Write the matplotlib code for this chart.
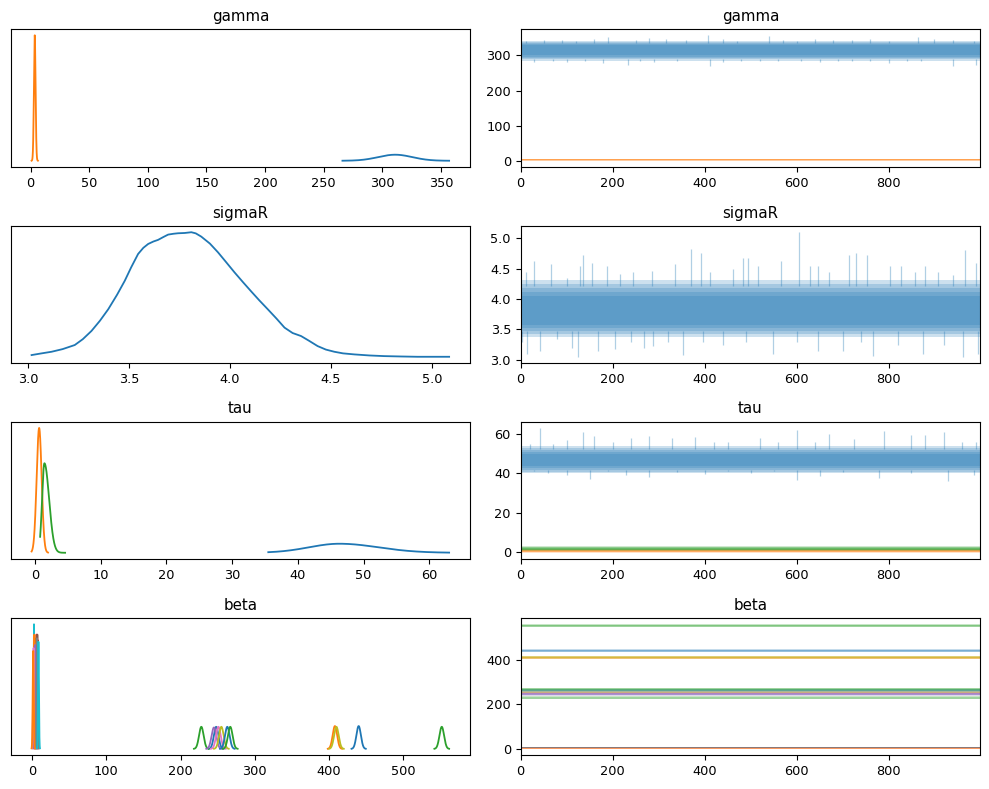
import numpy as np
import matplotlib
matplotlib.use("Agg")
import matplotlib.pyplot as plt

# ------------------------------------------------------------------
# Values
# ------------------------------------------------------------------
draw_last = 999

# gamma: two components (blue, orange)
gamma_center = [311.0, 3.5]
gamma_sd_left = [14.5, 0.70]
gamma_sd_right = [14.5, 0.70]
gamma_min = [266.0, 0.8]
gamma_max = [357.0, 6.2]

# sigmaR KDE
sigmaR_x = [3.016, 3.06, 3.115, 3.17, 3.23, 3.27, 3.313, 3.355, 3.396, 3.44, 3.478,
            3.51, 3.544, 3.57, 3.594, 3.62, 3.643, 3.67, 3.693, 3.72, 3.742, 3.775,
            3.808, 3.83, 3.857, 3.90, 3.94, 3.98, 4.022, 4.065, 4.105, 4.145, 4.187,
            4.23, 4.27, 4.31, 4.352, 4.39, 4.434, 4.475, 4.517, 4.56, 4.616, 4.69,
            4.764, 4.85, 4.929, 5.01, 5.086]
sigmaR_d = [0.032, 0.048, 0.067, 0.095, 0.138, 0.200, 0.287, 0.395, 0.516, 0.670, 0.817,
            0.960, 1.100, 1.165, 1.206, 1.232, 1.249, 1.280, 1.305, 1.314, 1.319, 1.322,
            1.330, 1.318, 1.284, 1.210, 1.118, 1.015, 0.906, 0.800, 0.704, 0.610, 0.516,
            0.418, 0.322, 0.265, 0.233, 0.185, 0.127, 0.090, 0.067, 0.050, 0.039, 0.028,
            0.021, 0.017, 0.014, 0.014, 0.014]

# tau: three components (blue, orange, green)
tau_center = [46.3, 0.65, 1.45]
tau_sd_left = [4.6, 0.38, 0.35]
tau_sd_right = [5.9, 0.38, 0.71]
tau_min = [35.5, -0.5, 0.8]
tau_max = [63.0, 2.0, 4.6]

# beta: 23 components
beta_center = [248, 408, 228, 6.0, 245, 5.0, 251, 5.5, 410, 2.5, 440, 3.0,
               552, 7.5, 4.0, 7.0, 2.0, 6.5, 255, 8.5, 263, 1.5, 267]
beta_sd = [3.1, 3.0, 3.1, 0.60, 3.2, 0.62, 3.1, 0.65, 3.1, 0.55, 3.0, 0.60,
           3.1, 0.63, 0.66, 0.60, 0.68, 0.62, 3.1, 0.64, 3.1, 0.70, 3.1]

# trace bands: inner (dense) and outer (light) ranges
gamma_inner = [(300, 328), (2.4, 4.6)]
gamma_outer = [(285, 342), (1.0, 6.0)]
sigmaR_inner = (3.58, 4.05)
sigmaR_outer = (3.38, 4.32)
tau_inner = [(43.5, 50.0), (0.35, 1.0), (1.1, 2.0)]
tau_outer = [(40.0, 54.0), (-0.3, 1.6), (0.8, 2.9)]

# spikes (draw index, value) of the trace extremes
gamma_up_x = [12, 50, 90, 120, 160, 190, 250, 280, 315, 360, 408, 440, 470, 541, 570,
              600, 640, 680, 720, 760, 800, 864, 900, 940, 985]
gamma_up_y = [340, 345, 344, 342, 346, 353, 344, 348, 347, 343, 357, 346, 340, 355, 345,
              341, 347, 345, 343, 346, 342, 352, 347, 343, 340]
gamma_dn_x = [30, 70, 101, 140, 180, 234, 260, 290, 340, 411, 440, 480, 520, 560, 610,
              650, 690, 720, 760, 802, 840, 870, 940, 991]
gamma_dn_y = [280, 284, 282, 285, 278, 274, 283, 282, 285, 270, 282, 283, 284, 285, 283,
              280, 284, 283, 284, 279, 284, 284, 270, 274]

sigmaR_up_x = [12, 28, 66, 100, 129, 136, 154, 188, 216, 245, 285, 335, 370, 393, 411,
               462, 484, 495, 516, 567, 606, 629, 647, 671, 714, 730, 754, 803, 828,
               857, 879, 908, 940, 966, 991]
sigmaR_up_y = [4.45, 4.62, 4.58, 4.35, 4.55, 4.72, 4.60, 4.55, 4.42, 4.45, 4.47, 4.58,
               4.83, 4.75, 4.45, 4.50, 4.67, 4.68, 4.55, 4.62, 5.10, 4.55, 4.55, 4.45,
               4.72, 4.76, 4.73, 4.55, 4.55, 4.45, 4.55, 4.45, 4.40, 4.80, 4.60]
sigmaR_dn_x = [2, 13, 42, 80, 111, 124, 168, 205, 240, 268, 288, 320, 354, 397, 440,
               491, 549, 600, 647, 701, 740, 766, 820, 875, 920, 962, 995]
sigmaR_dn_y = [3.30, 3.10, 3.15, 3.35, 3.20, 3.05, 3.15, 3.18, 3.30, 3.20, 3.22, 3.30,
               3.08, 3.30, 3.25, 3.30, 3.10, 3.30, 3.15, 3.15, 3.30, 3.07, 3.25, 3.10,
               3.25, 3.05, 3.10]

tau_up_x = [20, 43, 70, 100, 135, 160, 200, 240, 280, 330, 380, 420, 450, 520, 560,
            600, 640, 670, 725, 790, 850, 880, 920, 960, 990]
tau_up_y = [55, 63, 55, 57, 61, 59, 56, 58, 59, 58, 58.5, 56, 56, 58, 56,
            62, 56, 60, 57.5, 61.5, 59.5, 59.5, 61, 56, 56]
tau_dn_x = [30, 60, 100, 150, 190, 230, 280, 340, 400, 450, 500, 550, 600, 650, 700,
            780, 850, 930, 985]
tau_dn_y = [41, 40, 39, 37, 41, 39, 38, 40.5, 39.5, 41, 40, 41, 36.5, 38.5, 40.5,
            37.5, 40, 36, 39]

# ------------------------------------------------------------------
colors = plt.rcParams["axes.prop_cycle"].by_key()["color"]
W, H = 989, 789
fig = plt.figure(figsize=(W / 100, H / 100), dpi=100)

TITLE_FS = 10.8
TICK_FS = 9.3

rows_px = [(29, 167), (226, 363), (421.7, 559), (618, 755)]
left_px = (10.7, 470.0)
right_px = (520.7, 980.0)


def make_ax(col, row):
    x0, x1 = col
    t, b = rows_px[row]
    ax = fig.add_axes([x0 / W, 1 - b / H, (x1 - x0) / W, (b - t) / H])
    ax.tick_params(labelsize=TICK_FS)
    return ax


def bell(c, sl, sr, lo, hi, n=400):
    x = np.linspace(lo, hi, n)
    s = np.where(x < c, sl, sr)
    y = 2.0 / (np.sqrt(2 * np.pi) * (sl + sr)) * np.exp(-0.5 * ((x - c) / s) ** 2)
    return x, y


def band(ax, lo_hi, color, alpha):
    ax.fill_between([0, draw_last], [lo_hi[0]] * 2, [lo_hi[1]] * 2,
                    color=color, alpha=alpha, lw=0)


def graded_band(ax, inner, outer, color, n=5, total_alpha=0.72):
    # stacked translucent layers from the outer range in to the inner range
    a = 1 - (1 - total_alpha) ** (1.0 / n)
    for k in range(n):
        f = k / (n - 1)
        lo = outer[0] + f * (inner[0] - outer[0])
        hi = outer[1] + f * (inner[1] - outer[1])
        band(ax, (lo, hi), color, a)


def spikes(ax, xs, ys, base, color):
    ax.vlines(xs, base, ys, color=color, alpha=0.35, lw=0.9)


KDE_LW = 1.3

# ---- gamma ----
ax = make_ax(left_px, 0)
for i in range(len(gamma_center)):
    x, y = bell(gamma_center[i], gamma_sd_left[i], gamma_sd_right[i], gamma_min[i], gamma_max[i])
    ax.plot(x, y, color=colors[i], lw=KDE_LW)
ax.set_yticks([])
ax.set_title("gamma", fontsize=TITLE_FS)

ax = make_ax(right_px, 0)
for i in range(len(gamma_center)):
    graded_band(ax, gamma_inner[i], gamma_outer[i], colors[i])
spikes(ax, gamma_up_x, gamma_up_y, gamma_outer[0][1] - 6, colors[0])
spikes(ax, gamma_dn_x, gamma_dn_y, gamma_outer[0][0] + 6, colors[0])
ax.set_xlim(0, draw_last)
ax.set_title("gamma", fontsize=TITLE_FS)

# ---- sigmaR ----
ax = make_ax(left_px, 1)
ax.plot(sigmaR_x, sigmaR_d, color=colors[0], lw=KDE_LW)
ax.set_yticks([])
ax.set_title("sigmaR", fontsize=TITLE_FS)

ax = make_ax(right_px, 1)
graded_band(ax, sigmaR_inner, sigmaR_outer, colors[0])
spikes(ax, sigmaR_up_x, sigmaR_up_y, sigmaR_outer[1] - 0.1, colors[0])
spikes(ax, sigmaR_dn_x, sigmaR_dn_y, sigmaR_outer[0] + 0.1, colors[0])
ax.set_xlim(0, draw_last)
ax.set_title("sigmaR", fontsize=TITLE_FS)

# ---- tau ----
ax = make_ax(left_px, 2)
for i in range(len(tau_center)):
    x, y = bell(tau_center[i], tau_sd_left[i], tau_sd_right[i], tau_min[i], tau_max[i])
    ax.plot(x, y, color=colors[i], lw=KDE_LW)
ax.set_yticks([])
ax.set_title("tau", fontsize=TITLE_FS)

ax = make_ax(right_px, 2)
for i in range(len(tau_center)):
    graded_band(ax, tau_inner[i], tau_outer[i], colors[i])
spikes(ax, tau_up_x, tau_up_y, tau_outer[0][1] - 1.5, colors[0])
spikes(ax, tau_dn_x, tau_dn_y, tau_outer[0][0] + 1.5, colors[0])
ax.set_xlim(0, draw_last)
ax.set_title("tau", fontsize=TITLE_FS)

# ---- beta ----
ax = make_ax(left_px, 3)
for i in range(len(beta_center)):
    c, s = beta_center[i], beta_sd[i]
    x, y = bell(c, s, s, c - 3.2 * s, c + 3.2 * s)
    ax.plot(x, y, color=colors[i % 10], lw=KDE_LW)
ax.set_yticks([])
ax.set_title("beta", fontsize=TITLE_FS)

ax = make_ax(right_px, 3)
for i in range(len(beta_center)):
    c, s = beta_center[i], beta_sd[i]
    graded_band(ax, (c - 0.6 * s, c + 0.6 * s), (c - 2.2 * s, c + 2.2 * s),
                colors[i % 10], n=3, total_alpha=0.6)
ax.set_xlim(0, draw_last)
ax.set_title("beta", fontsize=TITLE_FS)

fig.savefig("out.png", dpi=100)
